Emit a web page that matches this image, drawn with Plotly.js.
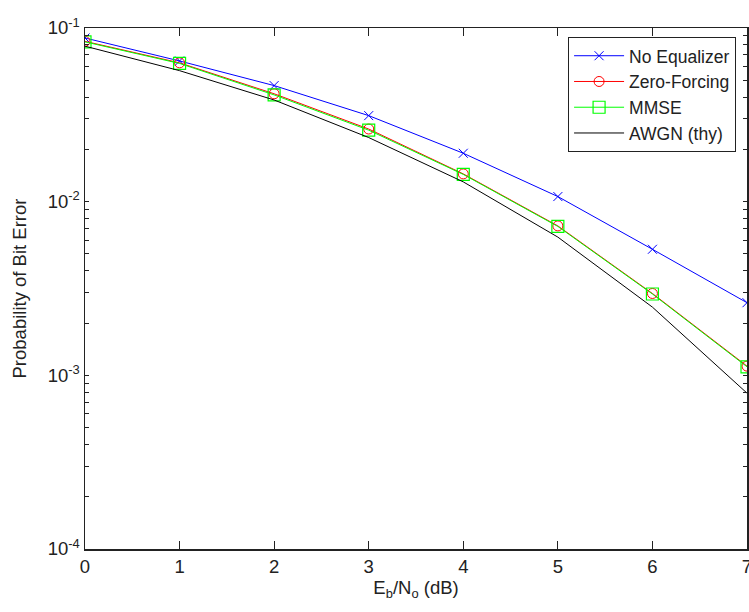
<!DOCTYPE html>
<html>
<head>
<meta charset="utf-8">
<script src="https://cdn.plot.ly/plotly-3.0.1.min.js"></script>
<style>html,body{margin:0;padding:0;background:#fff;}#chart{width:749px;height:612px;}</style>
</head>
<body>
<div id="chart"></div>
<script>
var ebno = [0, 1, 2, 3, 4, 5, 6, 7];
var noEqualizer = [0.0876, 0.0646, 0.0466, 0.0313, 0.0190, 0.0107, 0.00532, 0.00262];
var zeroForcing = [0.0838, 0.0630, 0.0418, 0.0262, 0.01445, 0.00725, 0.00296, 0.00113];
var mmse = [0.0832, 0.0625, 0.0412, 0.0258, 0.01435, 0.00720, 0.00294, 0.00112];
var awgn = [0.0786, 0.0568, 0.0385, 0.0234, 0.0130, 0.00625, 0.00247, 0.00079];
var seriesNames = ["No Equalizer", "Zero-Forcing", "MMSE", "AWGN (thy)"];
var xTickVals = [0, 1, 2, 3, 4, 5, 6, 7];
var decadeExps = [-4, -3, -2, -1];

var yTickVals = [], yTickText = [], yMinorVals = [];
decadeExps.forEach(function (e, i) {
  var base = Math.pow(10, e);
  yTickVals.push(base);
  yTickText.push("10<sup>" + e + "</sup>");
  if (i < decadeExps.length - 1) {
    for (var m = 2; m <= 9; m++) { yMinorVals.push(m * base); }
  }
});

var font = "Liberation Sans, Arial, sans-serif";
var fs = 18.5;
var traces = [
  {x: ebno, y: noEqualizer, name: seriesNames[0], mode: "lines+markers",
   line: {color: "#0000ff", width: 1}, marker: {symbol: "x-thin-open", size: 9, line: {color: "#0000ff", width: 1}}},
  {x: ebno, y: zeroForcing, name: seriesNames[1], mode: "lines+markers",
   line: {color: "#ff0000", width: 1}, marker: {symbol: "circle-open", size: 10, color: "#ff0000", line: {color: "#ff0000", width: 1}}},
  {x: ebno, y: mmse, name: seriesNames[2], mode: "lines+markers",
   line: {color: "#00ff00", width: 1}, marker: {symbol: "square-open", size: 12, color: "#00ff00", line: {color: "#00ff00", width: 1.2}}},
  {x: ebno, y: awgn, name: seriesNames[3], mode: "lines",
   line: {color: "#000000", width: 1}}
];

var layout = {
  width: 749, height: 612,
  margin: {l: 85, r: 2, t: 28, b: 63, pad: 0},
  paper_bgcolor: "#ffffff", plot_bgcolor: "#ffffff",
  font: {family: font, size: fs, color: "#222"},
  showlegend: true,
  legend: {x: 0.9835, y: 0.983, xanchor: "right", yanchor: "top",
    bgcolor: "#ffffff", bordercolor: "#222", borderwidth: 1,
    font: {family: font, size: 17.5, color: "#222"}, tracegroupgap: 0, itemwidth: 50},
  xaxis: {range: [0, 7], tickvals: xTickVals, ticks: "inside", ticklen: 8, tickwidth: 1,
    tickcolor: "#222", showline: true, linecolor: "#222", linewidth: 1.5, mirror: "ticks",
    ticklabeloverflow: "allow",
    showgrid: false, zeroline: false, tickfont: {family: font, size: fs, color: "#222"},
    title: {text: "E<sub>b</sub>/N<sub>o</sub> (dB)", font: {family: font, size: fs, color: "#222"}, standoff: 0}},
  yaxis: {type: "log", range: [-4, -1], tickvals: yTickVals, ticktext: yTickText,
    ticks: "inside", ticklen: 4, tickwidth: 1, tickcolor: "#222",
    minor: {tickvals: yMinorVals, ticks: "inside", ticklen: 4, tickwidth: 1, tickcolor: "#222", showgrid: false},
    showline: true, linecolor: "#222", linewidth: 1.5, mirror: "ticks",
    showgrid: false, zeroline: false, tickfont: {family: font, size: fs, color: "#222"},
    title: {text: "Probability of Bit Error", font: {family: font, size: fs, color: "#222"}, standoff: 16}}
};

Plotly.newPlot("chart", traces, layout, {displayModeBar: false, staticPlot: true});
</script>
</body>
</html>
